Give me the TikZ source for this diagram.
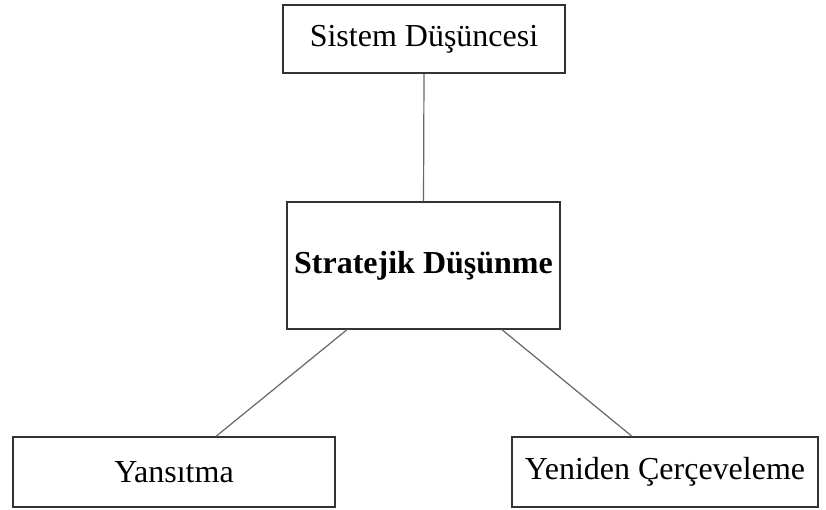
\documentclass[tikz,border=0pt]{standalone}
\usepackage{fontspec}
\setmainfont{Liberation Serif}
\begin{document}
\begin{tikzpicture}[x=1pt,y=-1pt,
  box/.style={draw=black!80,line width=1.3pt,fill=white,inner sep=0pt,
    font=\fontsize{32}{38}\selectfont},
  link/.style={draw=black!60,line width=1.2pt}]
  \useasboundingbox[fill=white] (0,0) rectangle (826,509);
  % boxes
  \node[box,minimum width=282pt,minimum height=68pt] (sys) at (424,39) {Sistem Düşüncesi};
  \node[box,minimum width=273pt,minimum height=127pt,font=\fontsize{32}{38}\selectfont\bfseries] (str) at (423.5,265.5) {Stratejik Düşünme};
  \node[box,minimum width=322pt,minimum height=70pt] (yan) at (174,472) {Yansıtma};
  \node[box,minimum width=306pt,minimum height=70pt] (yen) at (665,472) {Yeniden Çerçeveleme};
  % connectors
  \draw[link] (sys.south) -- (str.north);
  \draw[link] ([xshift=-76.5pt]str.south) -- ([xshift=42pt]yan.north);
  \draw[link] ([xshift=78.5pt]str.south) -- ([xshift=-33pt]yen.north);
\end{tikzpicture}
\end{document}
